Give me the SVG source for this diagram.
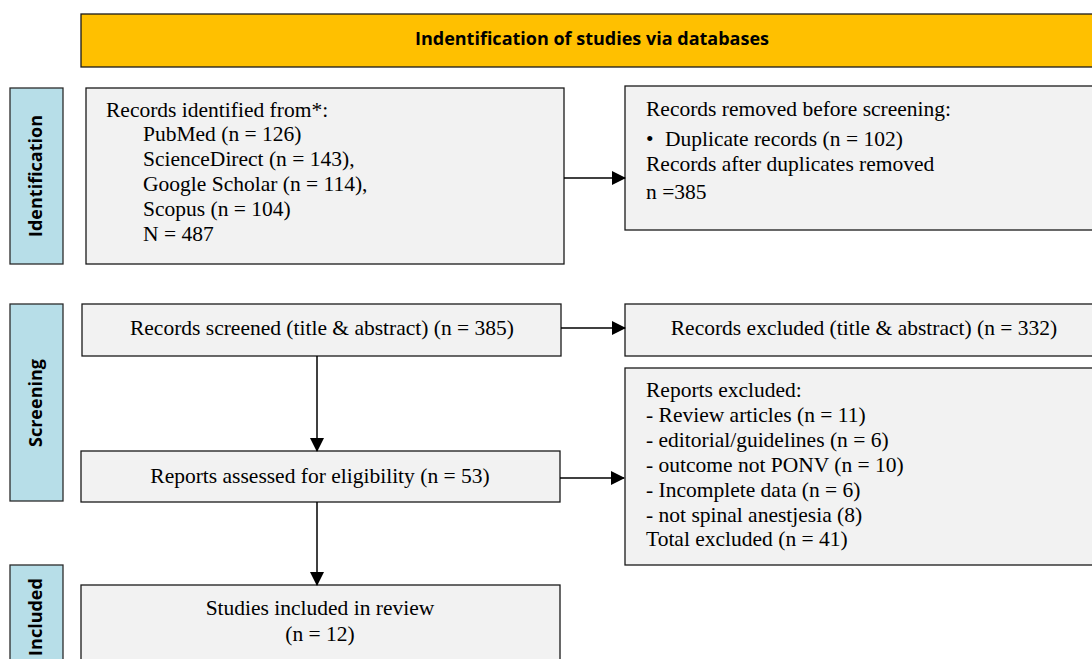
<svg xmlns="http://www.w3.org/2000/svg" width="1092" height="659" viewBox="0 0 1092 659">
<defs>
<marker id="ah" markerWidth="14" markerHeight="14" refX="13" refY="7" orient="auto" markerUnits="userSpaceOnUse">
<path d="M0,0 L14,7 L0,14 Z" fill="#000"/>
</marker>
<style>
.box{fill:#f2f2f2;stroke:#1a1a1a;stroke-width:1.3}
.side{fill:#b7dee8;stroke:#2b2b2b;stroke-width:1.3}
.hdr{fill:#ffc000;stroke:#1a1a1a;stroke-width:1.3}
.t{font-family:"Liberation Serif","Times New Roman",serif;font-size:21.5px;fill:#000}
.c{text-anchor:middle}
.s{font-family:"Open Sans","Liberation Sans",sans-serif;font-weight:bold;font-size:18px;fill:#000;text-anchor:middle}
.ln{stroke:#000;stroke-width:1.5;fill:none;marker-end:url(#ah)}
</style>
</defs>
<rect width="1092" height="659" fill="#fff"/>
<g id="header">
<rect class="hdr" x="81" y="14" width="1020" height="53"/>
<text class="s" x="592" y="45" font-size="16.5">Indentification of studies via databases</text>
</g>
<g id="lbl-identification">
<rect class="side" x="10" y="88" width="53" height="176"/>
<text class="s" transform="translate(42,176) rotate(-90)">Identification</text>
</g>
<g id="lbl-screening">
<rect class="side" x="10" y="304" width="53" height="197"/>
<text class="s" transform="translate(42,403) rotate(-90)">Screening</text>
</g>
<g id="lbl-included">
<rect class="side" x="10" y="565" width="53" height="110"/>
<text class="s" transform="translate(42,617) rotate(-90)">Included</text>
</g>
<g id="records-identified">
<rect class="box" x="86" y="88" width="478" height="176"/>
<text class="t" x="106" y="117">Records identified from*:</text>
<text class="t" x="143" y="141">PubMed (n = 126)</text>
<text class="t" x="143" y="166">ScienceDirect (n = 143),</text>
<text class="t" x="143" y="191">Google Scholar (n = 114),</text>
<text class="t" x="143" y="216">Scopus (n = 104)</text>
<text class="t" x="143" y="241">N = 487</text>
</g>
<g id="records-removed">
<rect class="box" x="625" y="86" width="480" height="144"/>
<text class="t" x="646" y="116">Records removed before screening:</text>
<text class="t" x="646" y="146" font-size="17">•</text>
<text class="t" x="665" y="146">Duplicate records (n = 102)</text>
<text class="t" x="646" y="171">Records after duplicates removed</text>
<text class="t" x="646" y="199">n =385</text>
</g>
<g id="records-screened">
<rect class="box" x="82" y="304" width="479" height="52"/>
<text class="t c" x="322" y="335">Records screened (title &amp; abstract) (n = 385)</text>
</g>
<g id="records-excluded">
<rect class="box" x="625" y="304" width="480" height="52"/>
<text class="t c" x="864" y="335">Records excluded (title &amp; abstract) (n = 332)</text>
</g>
<g id="reports-assessed">
<rect class="box" x="81" y="451" width="479" height="51"/>
<text class="t c" x="320" y="483">Reports assessed for eligibility (n = 53)</text>
</g>
<g id="reports-excluded">
<rect class="box" x="625" y="368" width="480" height="197"/>
<text class="t" x="646" y="397">Reports excluded:</text>
<text class="t" x="646" y="422">- Review articles (n = 11)</text>
<text class="t" x="646" y="447">- editorial/guidelines (n = 6)</text>
<text class="t" x="646" y="472">- outcome not PONV (n = 10)</text>
<text class="t" x="646" y="497">- Incomplete data (n = 6)</text>
<text class="t" x="646" y="522">- not spinal anestjesia (8)</text>
<text class="t" x="646" y="546">Total excluded (n = 41)</text>
</g>
<g id="studies-included">
<rect class="box" x="81" y="585" width="479" height="90"/>
<text class="t c" x="320" y="615">Studies included in review</text>
<text class="t c" x="320" y="641">(n = 12)</text>
</g>
<g id="connectors">
<line class="ln" x1="564" y1="178" x2="625" y2="178"/>
<line class="ln" x1="561" y1="328" x2="625" y2="328"/>
<line class="ln" x1="317" y1="356" x2="317" y2="451"/>
<line class="ln" x1="560" y1="478" x2="624" y2="478"/>
<line class="ln" x1="317" y1="502" x2="317" y2="585"/>
</g>
</svg>
